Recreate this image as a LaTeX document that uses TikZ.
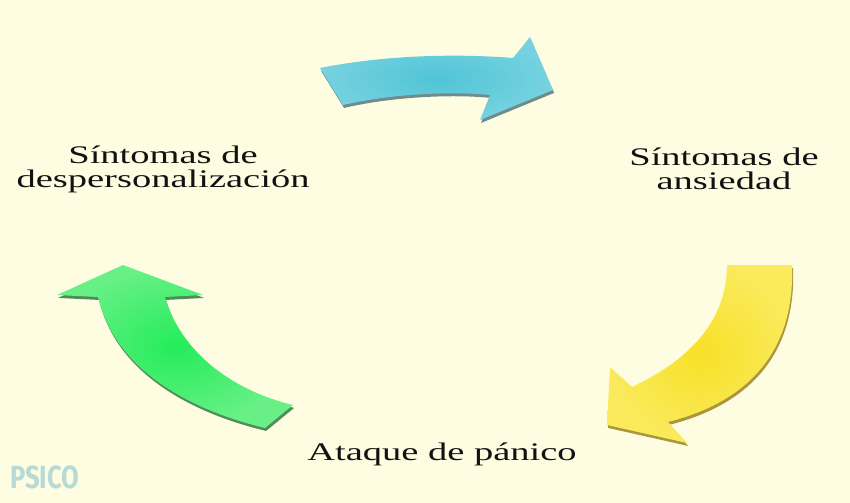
\documentclass[tikz,border=0pt]{standalone}
\usepackage{fontspec}
\newfontfamily\lblfont[FakeStretch=1.52]{Liberation Serif}
\newfontfamily\markfont[FakeStretch=0.8]{Fira Sans}

\definecolor{bgpaper}{RGB}{254,253,226}
\definecolor{inkdark}{RGB}{18,18,18}
\definecolor{markblue}{RGB}{184,218,214}
\definecolor{cyanmid}{RGB}{80,196,214}
\definecolor{cyanlight}{RGB}{118,210,224}
\definecolor{cyanedge}{RGB}{110,140,140}
\definecolor{yellowmid}{RGB}{248,224,40}
\definecolor{yellowlight}{RGB}{250,234,92}
\definecolor{yellowedge}{RGB}{170,150,60}
\definecolor{greenmid}{RGB}{36,236,90}
\definecolor{greenlight}{RGB}{104,240,134}
\definecolor{greenedge}{RGB}{80,140,90}

\tikzset{
  lbl/.style={font=\lblfont\fontsize{19}{18}\selectfont, text=inkdark, align=center, inner sep=0pt},
  thickedge/.style={preaction={fill=#1, transform canvas={xshift=0.8pt, yshift=-2.2pt}}},
  cyanarrow/.style={thickedge=cyanedge, inner color=cyanmid, outer color=cyanlight},
  yellowarrow/.style={thickedge=yellowedge, inner color=yellowmid, outer color=yellowlight},
  greenarrow/.style={thickedge=greenedge, inner color=greenmid, outer color=greenlight},
}

\begin{document}
\begin{tikzpicture}[x=0.75pt,y=0.75pt,yscale=-1,xscale=1]
%set diagram from 0 to 850 wide, 503 high
\path[use as bounding box, fill=bgpaper] (0,0) rectangle (850,503);

%Shape: Curved Right Arrow [top]
\shade[cyanarrow] (320,68) .. controls (380,56) and (450,53) .. (513,58) -- (530,37) -- (553,90) -- (480,120) -- (490,95) .. controls (450,91) and (390,94) .. (343,105) -- cycle ;
%Shape: Curved Down Arrow [right]
\shade[yellowarrow] (727,265) -- (792,265) .. controls (795,345) and (755,400) .. (668,422) -- (687,443) -- (607,425) -- (610,367) -- (632,387) .. controls (690,360) and (727,320) .. cycle ;
%Shape: Curved Up Arrow [left]
\shade[greenarrow] (123,265) -- (203,295) -- (165,297) .. controls (180,350) and (230,390) .. (293,405) -- (265,428) .. controls (190,410) and (115,370) .. (98,297) -- (57,295) -- cycle ;

%Texts
\node[lbl] (despers) at (163,169) {Síntomas de\\despersonalización};
\node[lbl] (ansiedad) at (724,169) {Síntomas de\\ansiedad};
\node[lbl, anchor=base] (ataque) at (442,460) {Ataque de pánico};

%Watermark
\node[font=\markfont\bfseries\fontsize{24}{24}\selectfont, text=markblue, anchor=base west, inner sep=0pt] (psico) at (10,488) {PSICO};

\end{tikzpicture}
\end{document}
